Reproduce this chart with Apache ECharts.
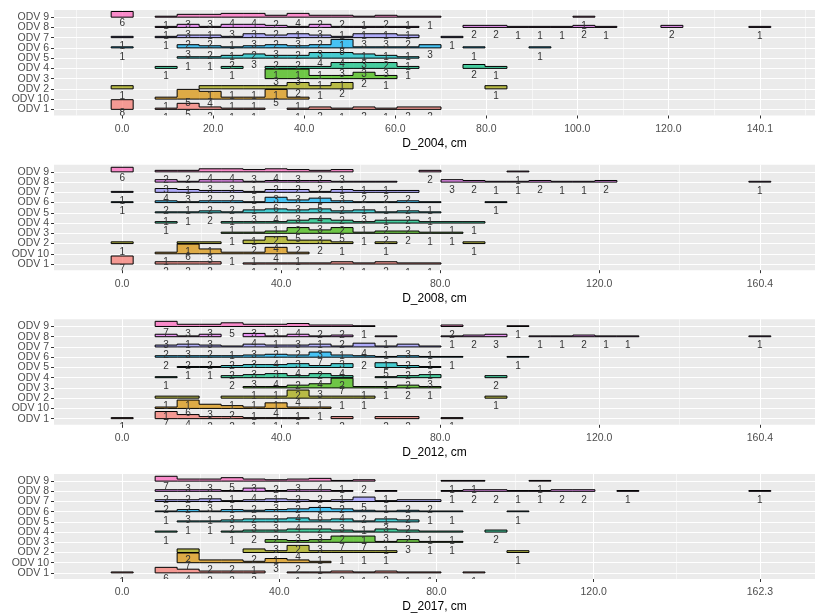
<!DOCTYPE html>
<html><head><meta charset="utf-8">
<script src="https://cdn.jsdelivr.net/npm/echarts@6/dist/echarts.min.js"></script>
<style>html,body{margin:0;padding:0;background:#fff}#c{width:815px;height:614px}</style>
</head><body><div id="c"></div>
<script>
// ---- categories / styling keys ----
const categories = ['ODV 1','ODV 10','ODV 2','ODV 3','ODV 4','ODV 5','ODV 6','ODV 7','ODV 8','ODV 9'];
const colors = ['#F8766D','#D89000','#A3A500','#39B600','#00BF7D','#00BFC4','#00B0F6','#9590FF','#E76BF3','#FF62BC'];
const years = ['2004','2008','2012','2017'];
const maxDiameter = [140.1, 160.4, 160.4, 162.3];
const majorBreaks = [
  [0,20,40,60,80,100,120,140.1],
  [0,40,80,120,160.4],
  [0,40,80,120,160.4],
  [0,40,80,120,162.3]
];
const minorBreaks = [
  [-10,10,30,50,70,90,110,130.05,150.15],
  [-20,20,60,100,140.2],
  [-20,20,60,100,140.2],
  [-20,20,60,100,141.15]
];

// ---- counts per 30 bins (bin k centred on k * max/29), rows in category order ----
const counts2004 = [
  [8,0,1,5,2,1,1,0,1,2,1,2,1,2,2,0,0,0,0,0,0,0,0,0,0,0,0,0,0,0], // ODV 1
  [0,0,1,5,4,1,1,5,1,0,0,0,0,0,0,0,0,0,0,0,0,0,0,0,0,0,0,0,0,0], // ODV 10
  [1,0,0,0,1,1,1,1,2,1,2,0,0,0,0,0,0,1,0,0,0,0,0,0,0,0,0,0,0,0], // ODV 2
  [0,0,0,0,0,0,0,3,3,1,1,2,1,0,0,0,0,0,0,0,0,0,0,0,0,0,0,0,0,0], // ODV 3
  [0,0,1,0,0,1,0,1,1,1,3,3,3,1,0,0,2,1,0,0,0,0,0,0,0,0,0,0,0,0], // ODV 4
  [0,0,0,1,1,2,3,2,2,4,4,3,2,1,0,0,0,0,0,0,0,0,0,0,0,0,0,0,0,0], // ODV 5
  [1,0,0,3,2,1,2,3,2,3,8,1,1,1,3,0,1,0,0,1,0,0,0,0,0,0,0,0,0,0], // ODV 6
  [1,0,1,2,2,1,3,2,3,2,1,3,3,2,0,1,0,0,0,0,0,0,0,0,0,0,0,0,0,0], // ODV 7
  [0,0,1,3,1,3,3,2,1,3,1,1,1,1,0,0,2,2,1,1,1,2,1,0,0,2,0,0,0,1], // ODV 8
  [6,0,1,3,3,4,4,2,4,2,2,1,2,1,1,0,0,0,0,0,0,1,0,0,0,0,0,0,0,0]  // ODV 9
];
const counts2008 = [
  [7,0,2,2,2,0,1,1,1,1,2,1,2,1,1,0,0,0,0,0,0,0,0,0,0,0,0,0,0,0],
  [0,0,1,6,3,1,1,4,1,0,0,0,0,0,0,0,0,0,0,0,0,0,0,0,0,0,0,0,0,0],
  [1,0,0,1,1,0,2,4,2,2,1,0,1,0,0,0,1,0,0,0,0,0,0,0,0,0,0,0,0,0],
  [0,0,0,0,0,1,1,2,5,3,5,1,2,2,1,1,0,0,0,0,0,0,0,0,0,0,0,0,0,0],
  [0,0,1,0,0,1,1,1,2,3,2,1,2,2,1,1,1,0,0,0,0,0,0,0,0,0,0,0,0,0],
  [0,0,1,1,2,1,3,4,3,4,2,3,1,2,1,0,0,0,0,0,0,0,0,0,0,0,0,0,0,0],
  [1,0,2,1,2,2,1,6,3,5,2,1,1,2,1,0,0,1,0,0,0,0,0,0,0,0,0,0,0,0],
  [1,0,4,3,2,2,1,3,3,1,3,2,2,2,0,0,0,0,0,0,0,0,0,0,0,0,0,0,0,0],
  [0,0,3,1,3,3,1,2,2,2,1,1,1,0,0,3,2,1,1,2,1,1,2,0,0,0,0,0,0,1],
  [6,0,2,2,4,4,3,4,3,2,3,0,0,0,2,0,0,0,1,0,0,0,0,0,0,0,0,0,0,0]
];
const counts2012 = [
  [1,0,7,4,2,2,1,1,1,0,2,0,2,2,0,1,0,0,0,0,0,0,0,0,0,0,0,0,0,0],
  [0,0,1,6,3,2,1,4,1,1,0,0,0,0,0,0,0,0,0,0,0,0,0,0,0,0,0,0,0,0],
  [0,0,1,1,0,1,1,1,4,1,1,1,0,0,0,0,0,1,0,0,0,0,0,0,0,0,0,0,0,0],
  [0,0,0,0,0,0,1,1,2,3,7,1,1,2,1,0,0,0,0,0,0,0,0,0,0,0,0,0,0,0],
  [0,0,1,0,0,2,3,4,2,4,2,0,1,2,3,0,0,2,0,0,0,0,0,0,0,0,0,0,0,0],
  [0,0,0,1,1,2,3,3,4,2,4,0,5,2,1,0,0,0,0,0,0,0,0,0,0,0,0,0,0,0],
  [0,0,2,2,2,2,3,4,3,7,3,2,1,2,1,1,0,0,1,0,0,0,0,0,0,0,0,0,0,0],
  [0,0,2,3,2,1,3,2,2,3,1,4,1,3,1,0,0,0,0,0,0,0,0,0,0,0,0,0,0,0],
  [0,0,3,1,3,0,4,1,3,1,2,0,1,0,0,1,2,3,0,1,1,2,1,1,0,0,0,0,0,1],
  [0,0,7,3,3,5,3,3,4,2,2,1,0,0,0,2,0,0,1,0,0,0,0,0,0,0,0,0,0,0]
];
const counts2017 = [
  [1,0,6,4,2,2,2,0,1,1,2,1,2,1,1,0,1,0,0,0,0,0,0,0,0,0,0,0,0,0],
  [0,0,0,7,2,2,1,3,2,1,0,0,0,0,0,0,0,0,0,0,0,0,0,0,0,0,0,0,0,0],
  [0,0,0,2,0,0,2,1,4,1,1,1,1,0,0,0,0,0,1,0,0,0,0,0,0,0,0,0,0,0],
  [0,0,0,0,0,0,0,3,2,3,7,7,1,3,1,1,0,0,0,0,0,0,0,0,0,0,0,0,0,0],
  [0,0,1,0,0,1,2,2,3,3,2,1,3,2,1,1,0,2,0,0,0,0,0,0,0,0,0,0,0,0],
  [0,0,0,1,1,2,3,3,4,2,3,1,3,2,0,0,0,0,0,0,0,0,0,0,0,0,0,0,0,0],
  [0,0,1,3,1,3,2,3,4,6,4,2,1,2,1,1,0,0,1,0,0,0,0,0,0,0,0,0,0,0],
  [0,0,2,2,3,1,2,3,2,1,2,5,1,2,2,0,0,0,0,0,0,0,0,0,0,0,0,0,0,0],
  [0,0,2,2,2,1,4,1,2,2,1,0,1,0,0,1,2,2,1,1,2,2,0,1,0,0,0,0,0,1],
  [0,0,7,3,3,5,3,2,3,4,1,2,0,0,0,1,1,0,0,1,0,0,0,0,0,0,0,0,0,0]
];
const panelCounts = [counts2004, counts2008, counts2012, counts2017];

// ---- layout ----
const PLOT_LEFT = 54, PLOT_FULL_W = 774, CANVAS_W = 815;
const gridTops = [10, 164.7, 319.3, 474];
const GRID_H = 105.5;
const Y_MIN = 0.4, Y_MAX = 10.7;
const RIDGE_SCALE = 0.95;
const FONT = "'Liberation Sans', Arial, sans-serif";
const catTicksOdd = [1,3,5,7,9];
const catTicksEven = [2,4,6,8,10];

function hexA(hex, a) {
  const r = parseInt(hex.slice(1,3),16), g = parseInt(hex.slice(3,5),16), b = parseInt(hex.slice(5,7),16);
  return 'rgba(' + r + ',' + g + ',' + b + ',' + a + ')';
}

function yAxisFor(p, ticks) {
  return {
    type: 'value', gridIndex: p, min: Y_MIN, max: Y_MAX, position: 'left', offset: 0,
    axisLine: { show: false, onZero: false },
    axisTick: { show: true, length: 3, customValues: ticks, lineStyle: { color: '#333', width: 1 } },
    axisLabel: {
      show: true, customValues: ticks, margin: 5, hideOverlap: false,
      showMinLabel: true, showMaxLabel: true,
      color: '#4D4D4D', fontSize: 10.5, fontFamily: FONT,
      formatter: function (v) { return categories[Math.round(v) - 1]; }
    },
    splitLine: { show: true, lineStyle: { color: '#FFFFFF', width: 1.1 } }
  };
}

const grids = [], xAxes = [], yAxes = [], series = [];

panelCounts.forEach(function (counts, p) {
  const maxD = maxDiameter[p];
  const w = maxD / 29;
  const span = maxD + 3 * w;
  const xMin = -1.5 * w - 0.05 * span;
  const xMaxFull = maxD + 1.5 * w + 0.05 * span;
  const xMaxVis = xMin + (CANVAS_W - PLOT_LEFT) / PLOT_FULL_W * (xMaxFull - xMin);

  const dens = counts.map(function (row) {
    const n = row.reduce(function (a, b) { return a + b; }, 0);
    return row.map(function (c) { return c / n; });
  });
  let maxDens = 0;
  dens.forEach(function (r) { r.forEach(function (d) { if (d > maxDens) maxDens = d; }); });

  const ridgeData = [], labelData = [];
  for (let c = categories.length - 1; c >= 0; c--) {
    const h = dens[c].map(function (d) { return d / maxDens * RIDGE_SCALE; });
    for (let k = 0; k < 30; k++) {
      const cnt = counts[c][k];
      if (!cnt) continue;
      const ph = k > 0 && counts[c][k - 1] ? h[k - 1] : 0;
      const nh = k < 29 && counts[c][k + 1] ? h[k + 1] : 0;
      ridgeData.push([k * w, c + 1, h[k], ph, nh, cnt, c]);
      labelData.push([k * w, c + 1 - 0.93 + 0.6 * h[k], cnt]);
    }
  }

  grids.push({
    left: PLOT_LEFT, right: 0, top: gridTops[p], height: GRID_H,
    show: true, backgroundColor: '#EBEBEB', borderWidth: 0
  });

  xAxes.push({
    type: 'value', gridIndex: p, min: xMin, max: xMaxVis, position: 'bottom',
    name: 'D_' + years[p] + ', cm', nameLocation: 'middle', nameGap: 22,
    nameTextStyle: { color: '#000', fontSize: 12, fontFamily: FONT },
    axisLine: { show: false, onZero: false },
    axisTick: { show: true, length: 3, customValues: majorBreaks[p], lineStyle: { color: '#333', width: 1 } },
    axisLabel: {
      show: true, customValues: majorBreaks[p], margin: 8, hideOverlap: false,
      showMinLabel: true, showMaxLabel: true,
      color: '#4D4D4D', fontSize: 10.5, fontFamily: FONT,
      formatter: function (v) { return Number(v).toFixed(1); }
    },
    splitLine: { show: true, lineStyle: { color: '#FFFFFF', width: 1.1 } }
  });
  xAxes.push({
    type: 'value', gridIndex: p, min: xMin, max: xMaxVis, position: 'top',
    axisLine: { show: false, onZero: false },
    axisTick: { show: false, customValues: minorBreaks[p] },
    axisLabel: { show: false, customValues: minorBreaks[p] },
    splitLine: { show: true, lineStyle: { color: '#FFFFFF', width: 0.55 } }
  });

  yAxes.push(yAxisFor(p, catTicksOdd));
  yAxes.push(yAxisFor(p, catTicksEven));

  const halfW = w / 2;
  series.push({
    type: 'custom', xAxisIndex: 2 * p, yAxisIndex: 2 * p, clip: true, z: 2,
    encode: { x: 0, y: 1 },
    data: ridgeData,
    renderItem: function (params, api) {
      const xc = api.value(0), y = api.value(1), h = api.value(2), ph = api.value(3), nh = api.value(4);
      const ci = api.value(6);
      const pL = api.coord([xc - halfW, y]);
      const pR = api.coord([xc + halfW, y]);
      const base = pL[1];
      const top = api.coord([xc, y + h])[1];
      const topPrev = api.coord([xc, y + ph])[1];
      const children = [
        { type: 'rect', shape: { x: pL[0], y: top, width: pR[0] - pL[0], height: base - top },
          style: { fill: hexA(colors[ci], 0.7), stroke: null } },
        { type: 'polyline', shape: { points: [[pL[0], topPrev], [pL[0], top], [pR[0], top]] },
          style: { stroke: '#000', lineWidth: 1, fill: null } },
        { type: 'line', shape: { x1: pL[0], y1: base, x2: pR[0], y2: base },
          style: { stroke: '#000', lineWidth: 1 } }
      ];
      if (!nh) {
        children.push({ type: 'line', shape: { x1: pR[0], y1: top, x2: pR[0], y2: base },
          style: { stroke: '#000', lineWidth: 1 } });
      }
      return { type: 'group', children: children };
    }
  });
  series.push({
    type: 'custom', xAxisIndex: 2 * p, yAxisIndex: 2 * p, clip: true, z: 3,
    encode: { x: 0, y: 1 },
    data: labelData,
    renderItem: function (params, api) {
      const pt = api.coord([api.value(0), api.value(1)]);
      return {
        type: 'text', x: pt[0], y: pt[1],
        style: { text: String(api.value(2)), fill: '#333333', fontSize: 10, fontFamily: FONT,
                 align: 'center', verticalAlign: 'middle' }
      };
    }
  });
});

const chart = echarts.init(document.getElementById('c'), null, { renderer: 'canvas' });
chart.setOption({
  animation: false,
  backgroundColor: '#FFFFFF',
  grid: grids, xAxis: xAxes, yAxis: yAxes, series: series
});
</script></body></html>
